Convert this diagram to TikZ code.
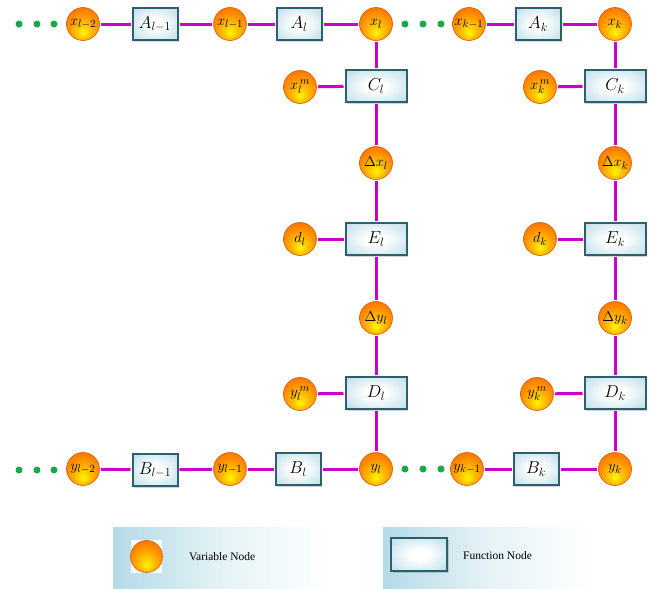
\documentclass[tikz,border=0pt]{standalone}
\usepackage{fontspec}
\setmainfont{Liberation Serif}
\usetikzlibrary{shadows}
\definecolor{edgec}{RGB}{204,0,204}
\definecolor{dotc}{RGB}{20,170,70}
\definecolor{boxborder}{RGB}{45,95,110}
\definecolor{boxfill}{RGB}{165,210,224}
\definecolor{legfill}{RGB}{180,218,230}
\definecolor{ballrim}{RGB}{215,90,10}
\pgfdeclarelayer{bg}
\pgfsetlayers{bg,main}
\pgfdeclareradialshading{varball}{\pgfpoint{0bp}{-14bp}}{%
  color(0bp)=(yellow!95!orange); color(10bp)=(yellow!55!orange);
  color(24bp)=(orange!90!yellow); color(36bp)=(orange!80!red);
  color(50bp)=(orange!70!red)}
\pgfdeclareradialshading{funcglow}{\pgfpoint{0bp}{0bp}}{%
  color(0bp)=(white); color(8bp)=(white); color(30bp)=(boxfill!60!white); color(50bp)=(boxfill)}
\tikzset{
  varnode/.style={circle, minimum size=33pt, inner sep=0pt, draw=ballrim,
    line width=0.6pt, shading=varball, font=\fontsize{15}{17}\selectfont},
  funcnode/.style={rectangle, minimum width=45pt, minimum height=32pt, inner sep=0pt,
    draw=boxborder, line width=2pt, shading=funcglow,
    drop shadow={shadow xshift=1.5pt, shadow yshift=-1.5pt, opacity=0.35},
    font=\fontsize{17}{19}\selectfont},
  widefunc/.style={funcnode, minimum width=61pt},
  edge/.style={draw=edgec, line width=3pt, shorten >=1pt, shorten <=1pt},
  gdot/.style={circle, fill=dotc, minimum size=7pt, inner sep=0pt},
  legbar/.style={rectangle, inner sep=0pt, left color=legfill, right color=white, middle color=legfill!35!white},
  legtext/.style={font=\fontsize{11.5}{13}\selectfont, anchor=west, inner sep=0pt}
}
\begin{document}
\begin{tikzpicture}[x=1pt, y=-1pt]
\useasboundingbox (0,0) rectangle (656,589);
% top row
\node[gdot] (td1) at (19,24) {};
\node[gdot] (td2) at (37,24) {};
\node[gdot] (td3) at (54,24) {};
\node[varnode] (xl2) at (83,24) {$x_{l-2}$};
\node[funcnode] (Al1) at (155,24) {$A_{l-1}$};
\node[varnode] (xl1) at (230,24) {$x_{l-1}$};
\node[funcnode] (Al) at (299,24) {$A_{l}$};
\node[varnode] (xl) at (376,24) {$x_{l}$};
\node[gdot] (td4) at (405,24) {};
\node[gdot] (td5) at (423,24) {};
\node[gdot] (td6) at (441,24) {};
\node[varnode] (xk1) at (469,24) {$x_{k-1}$};
\node[funcnode] (Ak) at (538,24) {$A_{k}$};
\node[varnode] (xk) at (615,24) {$x_{k}$};
% column l
\node[widefunc] (Cl) at (376,86) {$C_{l}$};
\node[varnode] (Dxl) at (376,163) {$\Delta x_{l}$};
\node[widefunc] (El) at (376,239) {$E_{l}$};
\node[varnode] (Dyl) at (376,318) {$\Delta y_{l}$};
\node[widefunc] (Dl) at (376,393) {$D_{l}$};
\node[varnode] (xlm) at (300,87) {$x_{l}^{\,m}$};
\node[varnode] (dl) at (300,239) {$d_{l}$};
\node[varnode] (ylm) at (300,394) {$y_{l}^{\,m}$};
% column k
\node[widefunc] (Ck) at (615,86) {$C_{k}$};
\node[varnode] (Dxk) at (615,163) {$\Delta x_{k}$};
\node[widefunc] (Ek) at (615,239) {$E_{k}$};
\node[varnode] (Dyk) at (615,318) {$\Delta y_{k}$};
\node[widefunc] (Dk) at (615,393) {$D_{k}$};
\node[varnode] (xkm) at (540,87) {$x_{k}^{\,m}$};
\node[varnode] (dk) at (540,239) {$d_{k}$};
\node[varnode] (ykm) at (537,394) {$y_{k}^{\,m}$};
% bottom row
\node[gdot] (bd1) at (19,470) {};
\node[gdot] (bd2) at (37,470) {};
\node[gdot] (bd3) at (54,470) {};
\node[varnode] (yl2) at (83,469) {$y_{l-2}$};
\node[funcnode] (Bl1) at (155,470) {$B_{l-1}$};
\node[varnode] (yl1) at (230,469) {$y_{l-1}$};
\node[funcnode] (Bl) at (298,469) {$B_{l}$};
\node[varnode] (yl) at (376,469) {$y_{l}$};
\node[gdot] (bd4) at (405,469) {};
\node[gdot] (bd5) at (423,469) {};
\node[gdot] (bd6) at (441,469) {};
\node[varnode] (yk1) at (467,469) {$y_{k-1}$};
\node[funcnode] (Bk) at (536,469) {$B_{k}$};
\node[varnode] (yk) at (615,469) {$y_{k}$};
% edges
\begin{pgfonlayer}{bg}
\draw[edge] (xl2) -- (Al1);
\draw[edge] (Al1) -- (xl1);
\draw[edge] (xl1) -- (Al);
\draw[edge] (Al) -- (xl);
\draw[edge] (xk1) -- (Ak);
\draw[edge] (Ak) -- (xk);
\draw[edge] (xl) -- (Cl);
\draw[edge] (Cl) -- (Dxl);
\draw[edge] (Dxl) -- (El);
\draw[edge] (El) -- (Dyl);
\draw[edge] (Dyl) -- (Dl);
\draw[edge] (Dl) -- (yl);
\draw[edge] (xlm) -- (Cl);
\draw[edge] (dl) -- (El);
\draw[edge] (ylm) -- (Dl);
\draw[edge] (xk) -- (Ck);
\draw[edge] (Ck) -- (Dxk);
\draw[edge] (Dxk) -- (Ek);
\draw[edge] (Ek) -- (Dyk);
\draw[edge] (Dyk) -- (Dk);
\draw[edge] (Dk) -- (yk);
\draw[edge] (xkm) -- (Ck);
\draw[edge] (dk) -- (Ek);
\draw[edge] (ykm) -- (Dk);
\draw[edge] (yl2) -- (Bl1);
\draw[edge] (Bl1) -- (yl1);
\draw[edge] (yl1) -- (Bl);
\draw[edge] (Bl) -- (yl);
\draw[edge] (yk1) -- (Bk);
\draw[edge] (Bk) -- (yk);
\end{pgfonlayer}
% legend
\node[legbar, minimum width=220pt, minimum height=62pt] (leg1) at (223,558) {};
\node[legbar, minimum width=209pt, minimum height=62pt] (leg2) at (487.5,558) {};
\node[rectangle, fill=white, minimum width=31pt, minimum height=33pt, inner sep=0pt] (legwhite) at (146.5,556.5) {};
\node[varnode, minimum size=32pt] (legvar) at (146.5,556.5) {};
\node[legtext] (legvartext) at (189,557) {Variable Node};
\node[funcnode, minimum width=56pt, minimum height=33pt] (legfunc) at (419,554.5) {};
\node[legtext] (legfunctext) at (463,556) {Function Node};
\end{tikzpicture}
\end{document}
